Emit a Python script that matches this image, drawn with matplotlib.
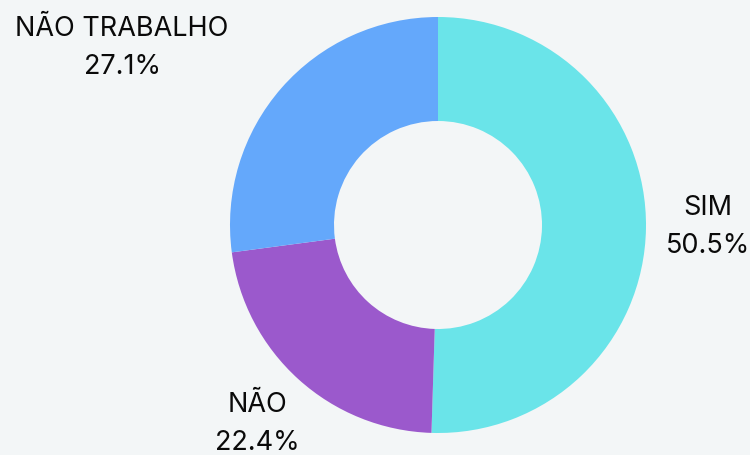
import matplotlib
matplotlib.use("Agg")
import matplotlib.pyplot as plt

categories = ["SIM", "NÃO", "NÃO TRABALHO"]
values = [50.5, 22.4, 27.1]
colors = ["#6ae4e9", "#9b59cc", "#64a8fb"]
# label anchor positions (pixel coords of label centre in the reference)
label_px = [(708, 227), (257, 424), (122, 48)]

W, H = 750, 456
cx, cy, R = 438, 226, 208

fig = plt.figure(figsize=(W / 100, H / 100), dpi=100, facecolor="#f3f6f7")
ax = fig.add_axes([0, 0, 1, 1])
ax.set_facecolor("#f3f6f7")
ax.pie(values, colors=colors, startangle=90, counterclock=False,
       radius=1.0, center=(0, 0),
       wedgeprops=dict(width=0.5, linewidth=0))
ax.set_xlim(-cx / R, (W - cx) / R)
ax.set_ylim(-(H - cy) / R, cy / R)
ax.set_aspect("auto")
ax.axis("off")

for cat, val, (px, py) in zip(categories, values, label_px):
    ax.text((px - cx) / R, (cy - py) / R, f"{cat}\n{val:.1f}%",
            ha="center", va="center", fontsize=19.5, family=["Inter", "DejaVu Sans"],
            color="#0a0a0a", linespacing=1.6)

fig.savefig("out.png", dpi=100, facecolor=fig.get_facecolor())
